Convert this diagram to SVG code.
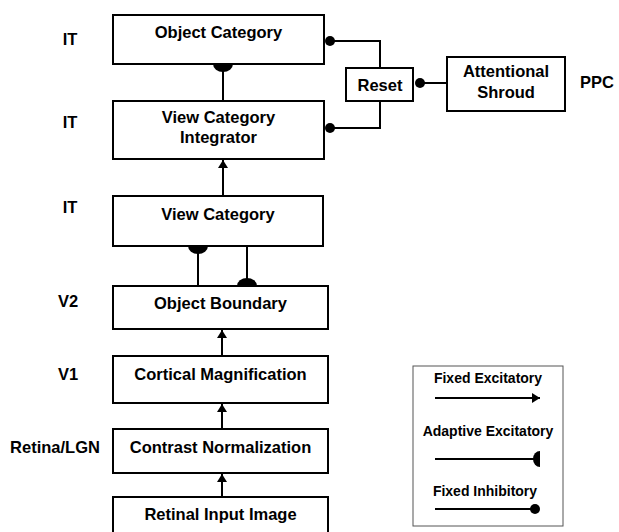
<svg xmlns="http://www.w3.org/2000/svg" width="619" height="532" viewBox="0 0 619 532">
<style>
.box{fill:#fff;stroke:#000;stroke-width:2}
.t{font-family:"Liberation Sans",Arial,sans-serif;font-weight:bold;font-size:16.5px;fill:#000;text-anchor:middle}
.lt{font-family:"Liberation Sans",Arial,sans-serif;font-weight:bold;font-size:14px;fill:#000;text-anchor:middle}
.c{fill:none;stroke:#000;stroke-width:2}
</style>
<defs>
<marker id="arr" markerUnits="userSpaceOnUse" orient="auto" refX="0" refY="0" markerWidth="12" markerHeight="12" overflow="visible"><path d="M0,0 L-8,-5 L-8,5 Z" fill="#000"/></marker>
<marker id="adapt" markerUnits="userSpaceOnUse" orient="auto" refX="0" refY="0" markerWidth="20" markerHeight="20" overflow="visible"><path d="M0,-10 A8,10 0 0 0 0,10 Z" fill="#000"/></marker>
<marker id="adaptL" markerUnits="userSpaceOnUse" orient="auto" refX="0" refY="0" markerWidth="20" markerHeight="20" overflow="visible"><path d="M0,-8 A7,8 0 0 0 0,8 Z" fill="#000"/></marker>
<marker id="inh" markerUnits="userSpaceOnUse" orient="auto" refX="0" refY="0" markerWidth="12" markerHeight="12" overflow="visible"><circle cx="0" cy="0" r="5" fill="#000"/></marker>
</defs>
<rect width="619" height="532" fill="#fff"/>
<g id="area-labels">
<text class="t" x="70" y="45">IT</text>
<text class="t" x="70" y="128">IT</text>
<text class="t" x="70" y="213">IT</text>
<text class="t" x="68" y="307">V2</text>
<text class="t" x="68" y="380">V1</text>
<text class="t" x="55" y="453">Retina/LGN</text>
<text class="t" x="597" y="88">PPC</text>
</g>
<g id="object-category"><rect class="box" x="113" y="15" width="211" height="49"/><text class="t" x="218.5" y="38">Object Category</text></g>
<g id="view-category-integrator"><rect class="box" x="113" y="101" width="211" height="58"/><text class="t" x="218.5" y="123">View Category</text><text class="t" x="218.5" y="143">Integrator</text></g>
<g id="reset"><rect class="box" x="346" y="68" width="67" height="33"/><text class="t" x="380" y="91">Reset</text></g>
<g id="attentional-shroud"><rect class="box" x="447" y="57" width="118" height="54"/><text class="t" x="506" y="77">Attentional</text><text class="t" x="506" y="98">Shroud</text></g>
<g id="view-category"><rect class="box" x="113" y="196" width="210" height="50"/><text class="t" x="218" y="220">View Category</text></g>
<g id="object-boundary"><rect class="box" x="113" y="286" width="215" height="43"/><text class="t" x="220.5" y="309">Object Boundary</text></g>
<g id="cortical-magnification"><rect class="box" x="113" y="356" width="215" height="47"/><text class="t" x="220.5" y="380">Cortical Magnification</text></g>
<g id="contrast-normalization"><rect class="box" x="113" y="429" width="215" height="44"/><text class="t" x="220.5" y="453">Contrast Normalization</text></g>
<g id="retinal-input-image"><rect class="box" x="113" y="497" width="215" height="45"/><text class="t" x="220.5" y="520">Retinal Input Image</text></g>
<g id="connectors">
<path class="c" d="M223,101 L223,64" marker-end="url(#adapt)"/>
<path class="c" d="M380,68 L380,41 L330,41" marker-end="url(#inh)"/>
<path class="c" d="M380,101 L380,128 L330,128" marker-end="url(#inh)"/>
<path class="c" d="M447,83 L420,83" marker-end="url(#inh)"/>
<path class="c" d="M223,196 L223,160" marker-end="url(#arr)"/>
<path class="c" d="M198,286 L198,246" marker-end="url(#adapt)"/>
<path class="c" d="M247,246 L247,286" marker-end="url(#adapt)"/>
<path class="c" d="M222,356 L222,330" marker-end="url(#arr)"/>
<path class="c" d="M222,429 L222,404" marker-end="url(#arr)"/>
<path class="c" d="M222,497 L222,474" marker-end="url(#arr)"/>
</g>
<g id="legend">
<rect x="413" y="366" width="150" height="160" fill="#fff" stroke="#555" stroke-width="1"/>
<text class="lt" x="488" y="383">Fixed Excitatory</text>
<path class="c" d="M435,398 L540,398" marker-end="url(#arr)"/>
<text class="lt" x="488" y="436">Adaptive Excitatory</text>
<path class="c" d="M435,459 L540,459" marker-end="url(#adaptL)"/>
<text class="lt" x="485" y="496">Fixed Inhibitory</text>
<path class="c" d="M435,509 L535,509" marker-end="url(#inh)"/>
</g>
</svg>
